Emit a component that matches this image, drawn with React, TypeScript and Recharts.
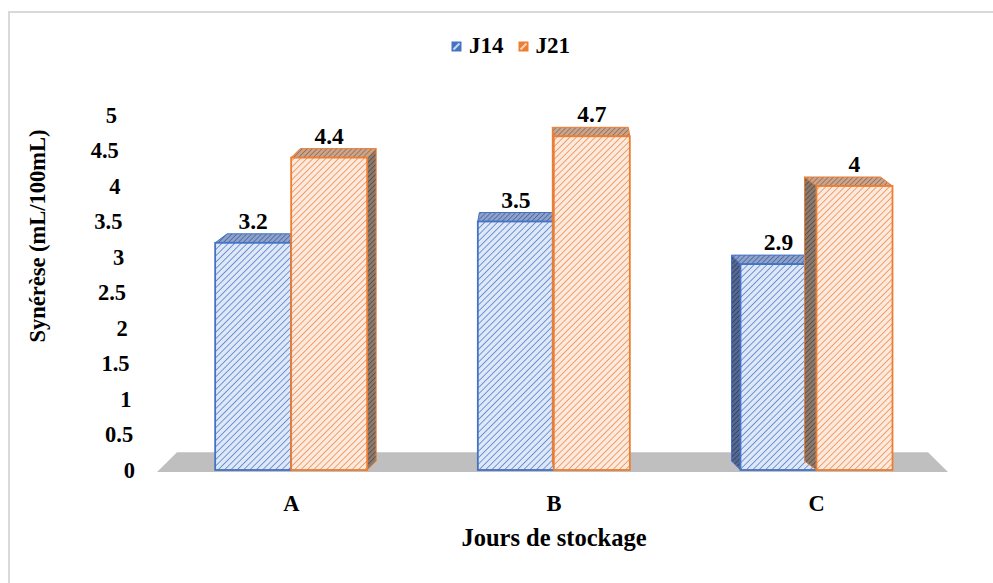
import React from 'react';
import { BarChart, Bar, XAxis, YAxis, ReferenceArea, LabelList, Label } from 'recharts';

// Storage day groups and syneresis values (mL/100mL)
const categories = ['A', 'B', 'C'];
const j14Values = [3.2, 3.5, 2.9];
const j21Values = [4.4, 4.7, 4];
const seriesNames = ['J14', 'J21'];
const yTicks = [0, 0.5, 1, 1.5, 2, 2.5, 3, 3.5, 4, 4.5, 5];
const floorHeight = 0.25;

const data = categories.map((c, i) => ({ cat: c, J14: j14Values[i], J21: j21Values[i] }));

const W = 993;
const H = 583;
const margin = { top: 115, right: 45, left: 100, bottom: 83 };
const Y_AXIS_W = 60;
const X_AXIS_H = 30;
const plotLeft = margin.left + Y_AXIS_W;
const plotRight = W - margin.right;
const plotCenterX = (plotLeft + plotRight) / 2;

const FONT = '"Liberation Serif", "Times New Roman", serif';

const palette = {
  J14: { stroke: '#4472c4', front: 'url(#hatchBlue)', top: 'url(#topBlue)', side: 'url(#sideBlue)', light: '#c9d7f0' },
  J21: { stroke: '#ed7d31', front: 'url(#hatchOrange)', top: 'url(#topOrange)', side: 'url(#sideOrange)', light: '#fad3b8' },
};

function Patterns() {
  const hatch = (id: string, bg: string, line: string, w = 1.3, step = 4.5) => (
    <pattern id={id} patternUnits="userSpaceOnUse" width={step} height={step} patternTransform="rotate(45)">
      <rect width={step} height={step} fill={bg} />
      <line x1={0} y1={0} x2={0} y2={step} stroke={line} strokeWidth={w} />
    </pattern>
  );
  return (
    <svg width={0} height={0} style={{ position: 'absolute' }}>
      <defs>
        {hatch('hatchBlue', '#dfe8f7', '#5580cf', 1.6, 4.5)}
        {hatch('hatchOrange', '#fdeade', '#f08c4e', 1.6, 4.5)}
        {hatch('topBlue', '#8ea3cc', '#4a649c', 1.6, 3.5)}
        {hatch('topOrange', '#c8a58e', '#9a6a4c', 1.6, 3.5)}
        {hatch('sideBlue', '#56688f', '#2e3f66', 1.6, 3.5)}
        {hatch('sideOrange', '#8b7a70', '#5a4a40', 1.6, 3.5)}
      </defs>
    </svg>
  );
}

// Bar drawn as a box: side face, top face, then the front face
function Box3D(props: any) {
  const { x, y, width, height, series } = props;
  if (width == null || height == null) return null;
  const p = palette[series as 'J14' | 'J21'];
  const cx = x + width / 2;
  const dx = (plotCenterX - cx) * 0.04;
  const dy = 9;
  const top = `${x},${y} ${x + width},${y} ${x + width + dx},${y - dy} ${x + dx},${y - dy}`;
  const side =
    dx >= 0
      ? `${x + width},${y} ${x + width + dx},${y - dy} ${x + width + dx},${y + height - dy} ${x + width},${y + height}`
      : `${x},${y} ${x + dx},${y - dy} ${x + dx},${y + height - dy} ${x},${y + height}`;
  return (
    <g>
      <polygon points={side} fill={p.side} stroke={p.stroke} strokeWidth={1} strokeLinejoin="round" />
      <polygon points={top} fill={p.top} stroke={p.stroke} strokeWidth={1} strokeLinejoin="round" />
      <rect x={x} y={y} width={width} height={height} fill={p.front} stroke={p.stroke} strokeWidth={1.8} />
    </g>
  );
}

function Floor(props: any) {
  const { x, y, width, height } = props;
  const pts = `${x + 17},${y} ${x + width - 20},${y} ${x + width},${y + height + 2} ${x - 3},${y + height + 2}`;
  return <polygon points={pts} fill="#bfbfbf" />;
}

function YTick(props: any) {
  const { x, y, payload } = props;
  const v = Number(payload.value);
  return (
    <text x={x - v * 3.6} y={y} textAnchor="end" dominantBaseline="central" fontFamily={FONT} fontWeight="bold" fontSize={22.5} fill="#000">
      {String(v)}
    </text>
  );
}

function XTick(props: any) {
  const { x, y, payload } = props;
  return (
    <text x={x} y={y + 33} textAnchor="middle" dominantBaseline="central" fontFamily={FONT} fontWeight="bold" fontSize={22.5} fill="#000">
      {payload.value}
    </text>
  );
}

function ValueLabel(props: any) {
  const { x, y, width, value } = props;
  return (
    <text x={x + width / 2} y={y - 22} textAnchor="middle" dominantBaseline="central" fontFamily={FONT} fontWeight="bold" fontSize={23.5} fill="#000">
      {String(value)}
    </text>
  );
}

function YTitle(props: any) {
  const { viewBox } = props;
  const tx = viewBox.x - 63;
  const ty = viewBox.y + 121;
  return (
    <text x={tx} y={ty} transform={`rotate(-90 ${tx} ${ty})`} textAnchor="middle" dominantBaseline="central" fontFamily={FONT} fontWeight="bold" fontSize={22.5} fill="#000">
      Synérèse (mL/100mL)
    </text>
  );
}

function XTitle(props: any) {
  const { viewBox } = props;
  const tx = viewBox.x + viewBox.width / 2;
  const ty = viewBox.y + viewBox.height + 37;
  return (
    <text x={tx} y={ty} textAnchor="middle" dominantBaseline="central" fontFamily={FONT} fontWeight="bold" fontSize={24.5} fill="#000">
      Jours de stockage
    </text>
  );
}

function LegendBox() {
  const items = seriesNames.map((n) => ({ name: n, p: palette[n as 'J14' | 'J21'] }));
  return (
    <div style={{ position: 'absolute', left: 451, top: 33, display: 'flex', alignItems: 'center', fontFamily: FONT, fontWeight: 'bold', fontSize: 23, color: '#000' }}>
      {items.map((it, i) => (
        <div key={it.name} style={{ display: 'flex', alignItems: 'center', marginRight: i === 0 ? 14 : 0 }}>
          <svg width={11} height={11} style={{ marginRight: 7 }}>
            <rect x={0.5} y={0.5} width={10} height={10} fill={it.p.stroke} />
            <line x1={2.5} y1={8.5} x2={8.5} y2={2.5} stroke={it.p.light} strokeWidth={2.2} />
          </svg>
          <span>{it.name}</span>
        </div>
      ))}
    </div>
  );
}

export default function App() {
  return (
    <div style={{ position: 'absolute', left: 0, top: 0, width: W, height: H, background: '#fff', overflow: 'hidden' }}>
      <Patterns />
      <div style={{ position: 'absolute', left: 8, top: 11, width: W, height: H, borderTop: '2px solid #d9d9d9', borderLeft: '2px solid #d9d9d9' }} />
      <div style={{ position: 'absolute', left: 0, top: 0 }}>
        <BarChart width={W} height={H} data={data} margin={margin} barCategoryGap="21%" barGap={0}>
          <XAxis dataKey="cat" height={X_AXIS_H} axisLine={false} tickLine={false} tickSize={0} tickMargin={0} tick={<XTick />}>
            <Label content={<XTitle />} />
          </XAxis>
          <YAxis
            width={Y_AXIS_W}
            domain={[0, 5]}
            ticks={yTicks}
            interval={0}
            axisLine={false}
            tickLine={false}
            tickSize={0}
            tickMargin={25}
            tick={<YTick />}
          >
            <Label content={<YTitle />} />
          </YAxis>
          <ReferenceArea y1={0} y2={floorHeight} shape={<Floor />} ifOverflow="visible" />
          <Bar dataKey="J14" isAnimationActive={false} shape={<Box3D series="J14" />}>
            <LabelList dataKey="J14" content={<ValueLabel />} />
          </Bar>
          <Bar dataKey="J21" isAnimationActive={false} shape={<Box3D series="J21" />}>
            <LabelList dataKey="J21" content={<ValueLabel />} />
          </Bar>
        </BarChart>
      </div>
      <LegendBox />
    </div>
  );
}
